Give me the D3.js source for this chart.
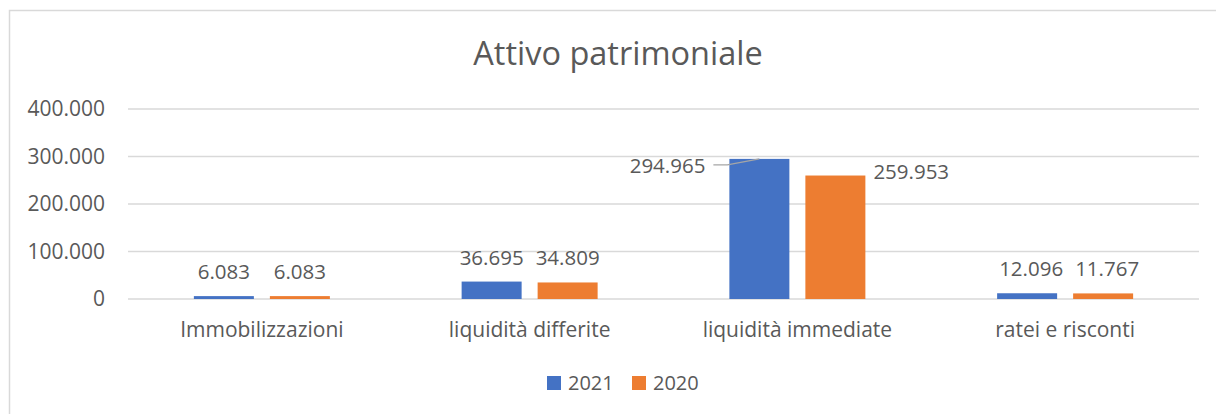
<!DOCTYPE html>
<html>
<head>
<meta charset="utf-8">
<script src="https://cdn.jsdelivr.net/npm/d3@7"></script>
<style>
  body { margin: 0; background: #fff; }
  text { font-family: "Open Sans", sans-serif; fill: #595959; }
</style>
</head>
<body>
<script>
// chart data
var categories = ["Immobilizzazioni", "liquidità differite", "liquidità immediate", "ratei e risconti"];
var seriesNames = ["2021", "2020"];
var values2021 = [6083, 36695, 294965, 12096];
var values2020 = [6083, 34809, 259953, 11767];
var yTicks = [0, 100000, 200000, 300000, 400000];
var colors = ["#4472C4", "#ED7D31"];

function run_d3 () {
    var width = 1216, height = 414;

    var svg = d3.select("body").append("svg")
        .attr("width", width)
        .attr("height", height);

    // chart border (only top and left are visible in the frame)
    svg.append("rect")
        .attr("x", 9.5).attr("y", 10.5)
        .attr("width", 1300).attr("height", 500)
        .attr("fill", "none")
        .attr("stroke", "#d9d9d9")
        .attr("stroke-width", 1.5);

    svg.append("text")
        .attr("x", 618).attr("y", 65)
        .attr("text-anchor", "middle")
        .style("font-size", "32.5px")
        .text("Attivo patrimoniale");

    var x = d3.scaleBand().domain(categories).range([128, 1199]);
    var y = d3.scaleLinear().domain([0, 400000]).range([299, 109]);
    var fmt = d3.formatLocale({decimal: ",", thousands: ".", grouping: [3], currency: ["", "€"]}).format(",d");

    // gridlines
    svg.append("g").selectAll("line")
        .data(yTicks).enter().append("line")
        .attr("x1", 128).attr("x2", 1199)
        .attr("y1", function (d) { return y(d); })
        .attr("y2", function (d) { return y(d); })
        .attr("stroke", "#d9d9d9")
        .attr("stroke-width", 1.3);

    // y tick labels
    svg.append("g").selectAll("text")
        .data(yTicks).enter().append("text")
        .attr("x", 105)
        .attr("y", function (d) { return y(d); })
        .attr("dy", "0.35em")
        .attr("text-anchor", "end")
        .style("font-size", "21px")
        .text(function (d) { return fmt(d); });

    // category labels
    svg.append("g").selectAll("text")
        .data(categories).enter().append("text")
        .attr("x", function (d) { return x(d) + x.bandwidth() / 2; })
        .attr("y", 337)
        .attr("text-anchor", "middle")
        .style("font-size", "21px")
        .text(function (d) { return d; });

    var barW = 60, gap = 16;
    var series = [values2021, values2020];

    series.forEach(function (vals, s) {
        var g = svg.append("g");
        var rows = categories.map(function (c, i) { return {cat: c, v: vals[i], i: i}; });
        function cx(d) {
            var c = x(d.cat) + x.bandwidth() / 2;
            return s === 0 ? c - gap / 2 - barW / 2 : c + gap / 2 + barW / 2;
        }
        g.selectAll("rect")
            .data(rows).enter().append("rect")
            .attr("x", function (d) { return cx(d) - barW / 2; })
            .attr("width", barW)
            .attr("y", function (d) { return y(d.v); })
            .attr("height", function (d) { return y(0) - y(d.v); })
            .attr("fill", colors[s]);

        // data labels; the tall pair is pushed aside like in the original
        g.selectAll("text")
            .data(rows).enter().append("text")
            .attr("x", function (d) {
                if (d.i === 2) return s === 0 ? cx(d) - barW / 2 - 24 : cx(d) + barW / 2 + 8;
                return cx(d) + (d.i === 3 ? 4 : 0);
            })
            .attr("y", function (d) {
                if (d.i === 2) return s === 0 ? y(d.v) + 14 : y(d.v) + 3;
                return y(d.v) - 17;
            })
            .attr("text-anchor", function (d) {
                if (d.i === 2) return s === 0 ? "end" : "start";
                return "middle";
            })
            .style("font-size", "20.5px")
            .text(function (d) { return fmt(d.v); });

        if (s === 0) {
            var d = rows[2];
            var ly = y(d.v) + 6;
            g.append("polyline")
                .attr("points", [[cx(d) - barW / 2 - 16, ly], [cx(d) - barW / 2 - 2, ly], [cx(d), y(d.v)]].join(" "))
                .attr("fill", "none")
                .attr("stroke", "#a6a6a6")
                .attr("stroke-width", 1.3);
        }
    });

    // legend
    var legend = svg.append("g");
    var lx = [547, 632];
    seriesNames.forEach(function (n, i) {
        legend.append("rect")
            .attr("x", lx[i]).attr("y", 376)
            .attr("width", 14).attr("height", 14)
            .attr("fill", colors[i]);
        legend.append("text")
            .attr("x", lx[i] + 21).attr("y", 390)
            .style("font-size", "20px")
            .text(n);
    });
}

window.onload = run_d3;
</script>
</body>
</html>
